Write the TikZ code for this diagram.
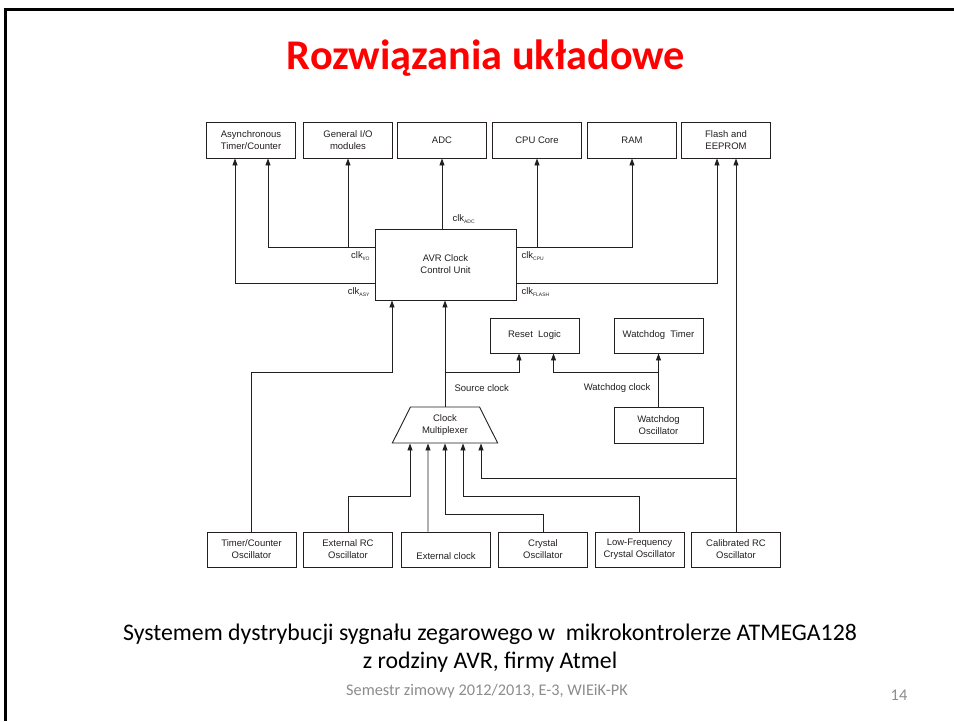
\documentclass[tikz,border=0pt]{standalone}
\usepackage{fontspec}
\setmainfont{Carlito}
\newfontfamily\diagfont{Liberation Sans}
\usetikzlibrary{arrows.meta,shapes.geometric}
\definecolor{slideink}{HTML}{231F20}
\definecolor{titlered}{HTML}{FF0000}
\definecolor{footgray}{HTML}{8C8C8C}
\newcommand{\clksig}[1]{clk\raisebox{-2.4pt}{\fontsize{5}{5}\selectfont #1}}

\begin{document}
\begin{tikzpicture}[
  x=1pt,
  y=-1pt,
  every node/.style={font=\diagfont\fontsize{9.5}{12}\selectfont, text=slideink},
  block/.style={draw=slideink, line width=0.9pt, minimum width=89pt,
    minimum height=36pt, inner sep=0pt, align=center},
  sig/.style={draw=slideink, line width=0.9pt},
  feed/.style={sig, -{Triangle[length=7pt,width=5pt]}}
]
  \useasboundingbox (0,0) rectangle (954,721);

  % slide frame and texts
  \draw[line width=3pt] (5.5,721) -- (5.5,9.5) -- (954,9.5);
  \node[font=\bfseries\fontsize{42.3}{50}\selectfont, text=titlered] (title) at (486,58) {Rozwiązania układowe};
  \node[font=\fontsize{23.8}{28}\selectfont, text=black, align=center] (caption) at (490,648)
    {Systemem dystrybucji sygnału zegarowego w\ \ mikrokontrolerze ATMEGA128\\z rodziny AVR, firmy Atmel};
  \node[font=\fontsize{16.3}{18}\selectfont, text=footgray] (footer) at (487,691) {Semestr zimowy 2012/2013, E-3, WIEiK-PK};
  \node[font=\fontsize{16.3}{18}\selectfont, text=footgray] (pageno) at (899,695) {14};

  % top row: clock consumers
  \node[block] (async) at (251,140) {Asynchronous\\Timer/Counter};
  \node[block] (gio) at (348,140) {General I/O\\modules};
  \node[block] (adc) at (442,140) {ADC};
  \node[block] (cpu) at (537,140) {CPU Core};
  \node[block] (ram) at (632,140) {RAM};
  \node[block] (flash) at (726,140) {Flash and\\EEPROM};

  % control unit, reset and watchdog
  \node[block, minimum width=141pt, minimum height=71pt] (avr) at (445.5,264.5) {AVR Clock\\Control Unit};
  \node[block, minimum height=35pt] (reset) at (534.5,335.5) {Reset\ \ Logic};
  \node[block, minimum height=35pt] (wdt) at (658.5,335.5) {Watchdog\ \ Timer};
  \node[block] (wdo) at (658.5,425) {Watchdog\\Oscillator};
  \node[draw=slideink, line width=0.9pt, trapezium, trapezium stretches=true,
    trapezium angle=60, minimum width=106pt, minimum height=36pt,
    inner sep=0pt, align=center] (mux) at (445,425) {Clock\\Multiplexer};

  % bottom row: clock sources
  \node[block, minimum height=35pt] (tco) at (251.5,549.5) {Timer/Counter\\Oscillator};
  \node[block, minimum height=35pt] (erc) at (348,549.5) {External RC\\Oscillator};
  \node[block, minimum height=35pt] (ext) at (446,549.5) {\strut\\External clock};
  \node[block, minimum height=35pt] (xtal) at (543,549.5) {Crystal\\Oscillator};
  \node[block, minimum height=35pt] (lfx) at (639.5,549.5) {Low-Frequency\\Crystal Oscillator};
  \node[block, minimum height=35pt] (crc) at (736,549.5) {Calibrated RC\\Oscillator};

  % clock outputs of the control unit
  \draw[feed] (adc.south |- avr.north) -- (adc.south);
  \draw[feed] (avr.west |- 0,247) -| ([xshift=17pt]async.south);
  \draw[feed] (gio.south |- 0,247) -- (gio.south);
  \draw[feed] (avr.west |- 0,283) -| ([xshift=-16pt]async.south);
  \draw[feed] (avr.east |- 0,247) -| (ram.south);
  \draw[feed] (cpu.south |- 0,247) -- (cpu.south);
  \draw[feed] (avr.east |- 0,283) -| ([xshift=-9pt]flash.south);

  \node[anchor=south west] (lbladc) at (449,227) {\clksig{ADC}};
  \node[anchor=east] (lblio) at (373,256) {\clksig{I/O}};
  \node[anchor=east] (lblasy) at (373,292) {\clksig{ASY}};
  \node[anchor=west] (lblcpu) at (518,256) {\clksig{CPU}};
  \node[anchor=west] (lblflash) at (518,292) {\clksig{FLASH}};

  % source clock, reset logic, watchdog
  \draw[feed] (tco.north) -- (tco.north |- 0,372) -| ([xshift=-53.5pt]avr.south);
  \draw[feed] (mux.north) -- (mux.north |- avr.south);
  \draw[feed] (mux.north |- 0,372) -| ([xshift=-15.5pt]reset.south);
  \draw[feed] (wdo.north) -- (wdt.south);
  \draw[feed] (wdo.north |- 0,372) -| ([xshift=19pt]reset.south);
  \node[anchor=west] (lblsrc) at (451,388) {Source clock};
  \node[anchor=east] (lblwd) at (654,388) {Watchdog clock};

  % multiplexer inputs
  \draw[feed] (erc.north) -- (erc.north |- 0,496) -| ([xshift=-35pt]mux.south);
  \draw[feed] ([xshift=-18pt]ext.north) -- ([xshift=-17pt]mux.south);
  \draw[feed] (xtal.north) -- (xtal.north |- 0,514) -| (mux.south);
  \draw[feed] (lfx.north) -- (lfx.north |- 0,496) -| ([xshift=18pt]mux.south);
  \draw[feed] (crc.north) -- ([xshift=10pt]flash.south);
  \draw[feed] (crc.north |- 0,478) -| ([xshift=36pt]mux.south);
\end{tikzpicture}
\end{document}
